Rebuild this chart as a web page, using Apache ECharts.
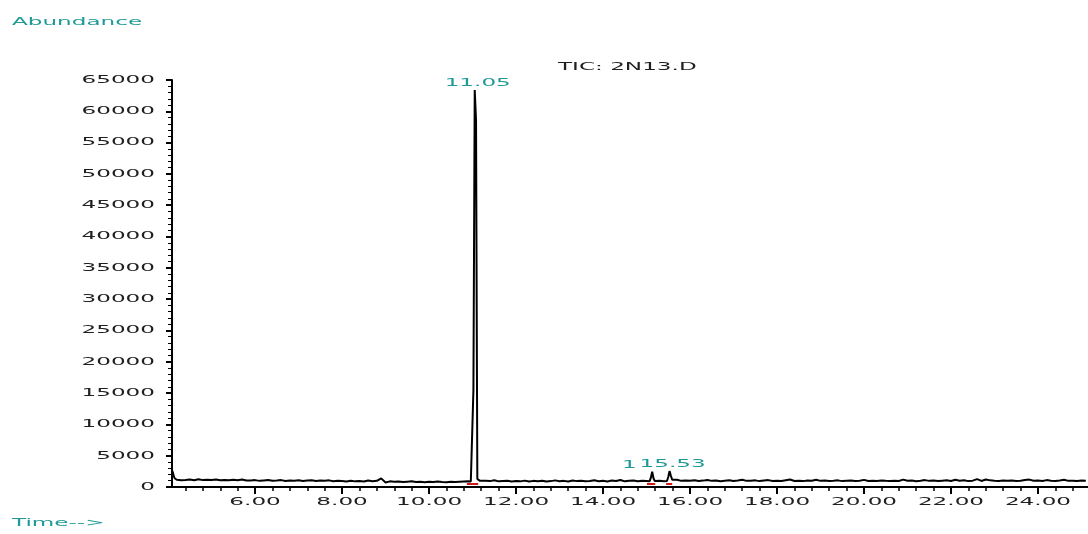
<!DOCTYPE html>
<html>
<head>
<meta charset="utf-8">
<script src="https://cdn.jsdelivr.net/npm/echarts@6/dist/echarts.min.js"></script>
<style>
  html, body { margin: 0; padding: 0; background: #ffffff; }
  #chart { width: 1088px; height: 534px; }
</style>
</head>
<body>
<div id="chart"></div>
<script>
// Total ion chromatogram, run 2N13.D

// Axis ranges and tick labels
const X_MIN = 4.09;
const X_MAX = 25.15;
const Y_MAX = 65000;
const Y_STEP = 5000;
const xTickValues = [6, 8, 10, 12, 14, 16, 18, 20, 22, 24];
const xTickLabels = ['6.00', '8.00', '10.00', '12.00', '14.00', '16.00', '18.00', '20.00', '22.00', '24.00'];
const yTickValues = [0, 5000, 10000, 15000, 20000, 25000, 30000, 35000, 40000, 45000, 50000, 55000, 60000, 65000];
const yTickLabels = ['0', '5000', '10000', '15000', '20000', '25000', '30000', '35000', '40000', '45000', '50000', '55000', '60000', '65000'];

// Solvent tail at the start of the run
const leadTimes  = [4.09, 4.11, 4.13, 4.15, 4.17];
const leadValues = [2700, 2300, 1800, 1400, 1250];

// Baseline abundance, one reading every 0.1 min starting at 4.2 min
const BASE_START = 4.2;
const BASE_STEP = 0.1;
const baselineValues = [
  1150, 1080, 1120, 1200, 1090, 1230, 1100, 1150,                // 4.2 - 4.9
  1100, 1180, 1080, 1120, 1060, 1140, 1090, 1210, 1050, 1020,    // 5
  1100,  980, 1050, 1120,  990, 1030, 1100,  960, 1040, 1010,    // 6
  1080,  950, 1020, 1090,  970, 1040,  990, 1060,  930, 1000,    // 7
   940,  880, 1010,  900,  960,  870, 1050,  920,  980, 1380,    // 8
   720,  900,  820,  870,  780,  850,  900,  800,  840,  760,    // 9
   830,  790,  860,  810,  770,  850,  800,  840,  880,  900,    // 10
   950,  950, 1250, 1000,  940, 1080,  900,  960, 1010,  880,    // 11
   950,  900, 1020,  870,  980,  930, 1000,  890,  940, 1060,    // 12
   920,  980,  870, 1050,  940, 1000,  900,  960, 1090,  930,    // 13
   990,  880, 1040,  950, 1120,  900,  980, 1030,  920, 1000,    // 14
   950,  950,  900, 1000,  920,  950,  950, 1150,  980, 1040,    // 15
  1000, 1080,  950, 1020, 1130,  980, 1050,  920, 1010, 1090,    // 16
   960, 1030, 1150,  980, 1000, 1060,  940, 1020, 1100,  970,    // 17
  1000,  950, 1080, 1200,  960, 1010,  940, 1050,  990, 1170,    // 18
   980, 1020,  950, 1000, 1060,  940,  990, 1030,  970, 1010,    // 19
  1140,  950, 1000,  960, 1030,  980,  940, 1010,  960, 1180,    // 20
   990, 1050,  930, 1000, 1100,  980, 1040,  950, 1010, 1070,    // 21
   960, 1150, 1000, 1080,  940, 1010, 1250,  970, 1200, 1060,    // 22
   990,  950, 1020,  980, 1040,  960, 1000, 1130, 1180,  990,    // 23
  1020,  960, 1100, 1000,  950, 1040, 1160,  980, 1010,  960,    // 24
  1030,  990                                                     // 25.0 - 25.1
];

// Detected peaks, sampled finely across each peak
const peak1Times  = [10.96, 10.99, 11.02, 11.05, 11.08, 11.11, 11.14, 11.17];
const peak1Values = [880, 950, 15500, 63400, 58600, 1300, 1050, 980];
const peak2Times  = [15.07, 15.10, 15.13, 15.16, 15.19];
const peak2Values = [900, 1500, 2450, 1400, 950];
const peak3Times  = [15.47, 15.50, 15.53, 15.56, 15.59, 15.62];
const peak3Values = [950, 1600, 2550, 1800, 1150, 960];

// Peak annotations (retention time labels)
const peakLabelTimes = [11.05, 15.13, 15.53];
const peakLabelTexts = ['11.05', '15.13', '15.53'];

// Integration baselines under each peak
const integrationStarts = [10.87, 15.01, 15.45];
const integrationEnds   = [11.13, 15.20, 15.59];
const integrationLevel  = [550, 550, 550];

// Build the trace: baseline readings outside the peak windows, plus peak samples
const peakWindows = [[10.95, 11.18], [15.06, 15.21], [15.46, 15.63]];
const points = [];
leadTimes.forEach((t, i) => points.push([t, leadValues[i]]));
baselineValues.forEach((v, i) => {
  const t = Math.round((BASE_START + i * BASE_STEP) * 100) / 100;
  if (!peakWindows.some(w => t >= w[0] && t <= w[1])) points.push([t, v]);
});
[[peak1Times, peak1Values], [peak2Times, peak2Values], [peak3Times, peak3Values]].forEach(([ts, vs]) => {
  ts.forEach((t, i) => points.push([t, vs[i]]));
});
points.sort((a, b) => a[0] - b[0]);

// Minor x ticks every 0.4 min between the labelled ones
const xMinorTickValues = [];
for (let k = 11; k * 0.4 <= X_MAX; k++) {
  if (k % 5 !== 0) xMinorTickValues.push(Math.round(k * 4) / 10);
}

const TEAL = '#1f9a96';
const INK = '#202020';
const FONT = 'DejaVu Sans';
const FONT_SIZE = 11;
const STRETCH = 2.1;

const chart = echarts.init(document.getElementById('chart'), null, { renderer: 'canvas' });

const option = {
  animation: false,
  backgroundColor: '#ffffff',
  grid: { left: 172, right: 0, top: 80, bottom: 47, containLabel: false },
  xAxis: [
    {
      type: 'value', min: X_MIN, max: X_MAX,
      axisLine: { show: true, lineStyle: { color: '#000', width: 2 } },
      axisTick: { show: true, customValues: xTickValues, length: 7, lineStyle: { color: '#000', width: 2 } },
      axisLabel: { show: false },
      splitLine: { show: false }
    },
    {
      type: 'value', min: X_MIN, max: X_MAX, position: 'bottom',
      axisLine: { show: false },
      axisTick: { show: true, customValues: xMinorTickValues, length: 4, lineStyle: { color: '#000', width: 1.5 } },
      axisLabel: { show: false },
      splitLine: { show: false }
    }
  ],
  yAxis: {
    type: 'value', min: 0, max: Y_MAX, interval: Y_STEP,
    axisLine: { show: true, lineStyle: { color: '#000', width: 2 } },
    axisTick: { show: true, length: 6, lineStyle: { color: '#000', width: 2 } },
    minorTick: { show: true, splitNumber: 5, length: 4, lineStyle: { color: '#000', width: 1 } },
    axisLabel: { show: false },
    splitLine: { show: false }
  },
  series: [
    {
      name: 'TIC: 2N13.D',
      type: 'line',
      data: points,
      showSymbol: false,
      symbol: 'none',
      lineStyle: { color: '#000', width: 2 },
      z: 3,
      markLine: {
        silent: true,
        symbol: 'none',
        label: { show: false },
        lineStyle: { color: '#d01818', width: 2, type: 'solid' },
        data: integrationStarts.map((s, i) => [
          { coord: [s, integrationLevel[i]] },
          { coord: [integrationEnds[i], integrationLevel[i]] }
        ])
      }
    }
  ]
};

chart.setOption(option);

// Text in the stretched plotter lettering
const toPx = (t, v) => chart.convertToPixel({ xAxisIndex: 0, yAxisIndex: 0 }, [t, v]);
function stretchedText(text, x, y, color, align, extra) {
  return Object.assign({
    type: 'text', x, y, scaleX: STRETCH, silent: true, z: 10,
    style: {
      text, fill: color, fontFamily: FONT, fontSize: FONT_SIZE,
      align, verticalAlign: 'middle'
    }
  }, extra || {});
}

const originPx = toPx(X_MIN, 0);
const graphics = [];

yTickValues.forEach((v, i) => {
  const p = toPx(X_MIN, v);
  graphics.push(stretchedText(yTickLabels[i], originPx[0] - 17, p[1], INK, 'right'));
});
xTickValues.forEach((t, i) => {
  const p = toPx(t, 0);
  graphics.push(stretchedText(xTickLabels[i], p[0], originPx[1] + 15, INK, 'center'));
});

graphics.push(stretchedText('Abundance', 12, 22.5, TEAL, 'left'));
graphics.push(stretchedText('TIC: 2N13.D', 558, 67.5, INK, 'left'));
graphics.push(stretchedText('Time-->', 12, 523.5, TEAL, 'left'));

// Retention time labels above each apex; later labels blank out what they overlap
peakLabelTimes.forEach((t, i) => {
  const apex = points.reduce((best, d) => (Math.abs(d[0] - t) < 0.005 && d[1] > best ? d[1] : best), 0);
  const p = toPx(t, apex);
  const el = stretchedText(peakLabelTexts[i], p[0] + 3, p[1] - 7, TEAL, 'center');
  el.z = 10 + i;
  if (i > 0) {
    el.style.backgroundColor = '#ffffff';
    el.style.padding = [0, 2, 0, 2];
  }
  graphics.push(el);
});

chart.setOption({ graphic: graphics });
</script>
</body>
</html>
